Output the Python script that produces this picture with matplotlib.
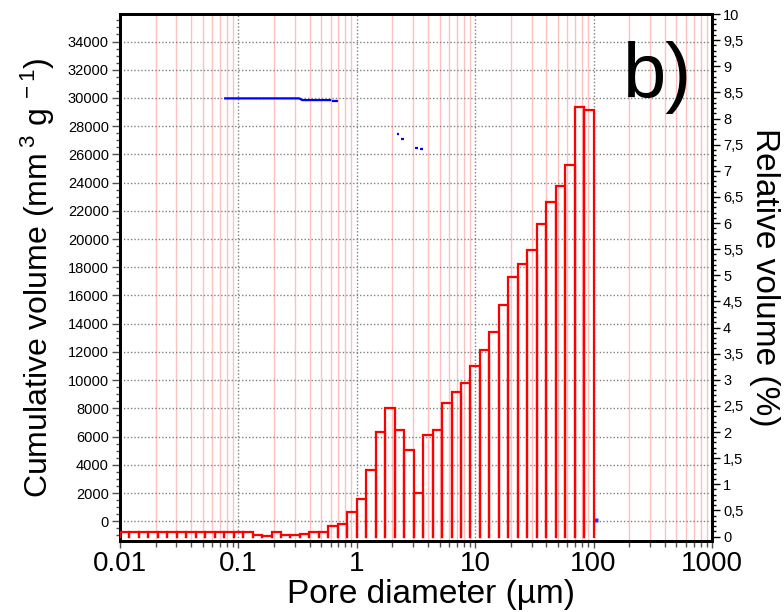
import numpy as np
import matplotlib
matplotlib.use("Agg")
import matplotlib.pyplot as plt
from matplotlib.ticker import FixedLocator, FuncFormatter, MultipleLocator, LogLocator, NullFormatter

plt.rcParams['font.family'] = ['Liberation Sans', 'DejaVu Sans']
plt.rcParams['mathtext.fontset'] = 'custom'
plt.rcParams['mathtext.rm'] = 'Liberation Sans'
plt.rcParams['mathtext.it'] = 'Liberation Sans'

# ---- data ----
bin_edges = np.logspace(-2, 2, 51)          # pore diameter bin edges (um)
relative_volume = [0.09, 0.09, 0.09, 0.09, 0.09, 0.09, 0.09, 0.09, 0.09, 0.09,
                   0.09, 0.09, 0.09, 0.09, 0.02, 0.01, 0.09, 0.02, 0.02, 0.05,
                   0.09, 0.09, 0.20, 0.23, 0.46, 0.71, 1.28, 2.00, 2.46, 2.04,
                   1.66, 0.84, 1.94, 2.04, 2.55, 2.76, 2.94, 3.27, 3.56, 3.92,
                   4.43, 4.97, 5.22, 5.48, 5.99, 6.40, 6.70, 7.11, 8.22, 8.17]

# cumulative volume fragments (um, mm3/g)
cum_seg1_x = [0.0757, 0.327, 0.345, 0.609]
cum_seg1_y = [29970, 29970, 29850, 29850]
cum_seg2_x = [0.62, 0.70]
cum_seg2_y = [29780, 29780]
cum_seg3_x = [2.2, 2.27]
cum_seg3_y = [27420, 27420]
cum_seg4_x = [2.38, 2.5]
cum_seg4_y = [27110, 27110]
cum_seg5_x = [3.13, 3.3]
cum_seg5_y = [26470, 26470]
cum_seg6_x = [3.43, 3.6]
cum_seg6_y = [26380, 26380]
cum_point_x = [104]
cum_point_y = [100]

x_ticks = [0.01, 0.1, 1, 10, 100, 1000]
x_ticklabels = ["0.01", "0.1", "1", "10", "100", "1000"]
left_ticks = list(range(0, 34001, 2000))
right_ticks = [i * 0.5 for i in range(21)]

# ---- figure ----
fig = plt.figure(figsize=(7.84, 6.12), dpi=100)
ax = fig.add_axes([120/784, 1-541/612, (712-120)/784, (541-14)/612])
ax2 = ax.twinx()

ax.set_xscale('log')
ax.set_xlim(0.01, 1000)
ax.set_ylim(-1400, 35950)
ax2.set_ylim(-0.086, 10)

# grids
ax.xaxis.set_major_locator(FixedLocator(x_ticks))
ax.xaxis.set_minor_locator(LogLocator(base=10, subs=np.arange(2, 10), numticks=20))
ax.xaxis.set_minor_formatter(NullFormatter())
ax.set_xticklabels(x_ticklabels)
ax.grid(which='minor', axis='x', color='#ffc0c0', lw=1.0, ls='-')
ax.grid(which='major', axis='x', color='#808080', lw=1.0, ls=(0, (1, 1.5)))
ax.set_yticks(left_ticks)
ax.yaxis.set_minor_locator(MultipleLocator(500))
ax.grid(which='major', axis='y', color='#808080', lw=1.0, ls=(0, (1, 1.5)))
ax.set_axisbelow(True)

# cumulative curve fragments
for sx, sy in [(cum_seg1_x, cum_seg1_y), (cum_seg2_x, cum_seg2_y), (cum_seg3_x, cum_seg3_y),
               (cum_seg4_x, cum_seg4_y), (cum_seg5_x, cum_seg5_y), (cum_seg6_x, cum_seg6_y)]:
    ax.plot(sx, sy, color='#0000ff', lw=1.6, solid_capstyle='butt', zorder=3)
ax.plot(cum_point_x, cum_point_y, ls='none', marker='s', ms=2.5, color='#3030ff', mec='none', zorder=3)

# histogram bars: open outlines (left side, top, right side; no bottom)
bx, by = [], []
for x0, x1, h in zip(bin_edges[:-1], bin_edges[1:], relative_volume):
    bx += [x0, x0, x1, x1, np.nan]
    by += [0, h, h, 0, np.nan]
ax2.plot(bx, by, color='#ff0000', lw=1.6, solid_joinstyle='miter', zorder=3)

ax2.set_yticks(right_ticks)
ax2.yaxis.set_minor_locator(MultipleLocator(0.1))
ax2.yaxis.set_major_formatter(FuncFormatter(lambda v, p: ('%g' % v).replace('.', ',')))

# ticks & spines
ax.tick_params(axis='x', which='major', direction='out', length=5, width=1, color='#505050',
               labelsize=20, pad=2)
ax.tick_params(axis='x', which='minor', direction='out', length=4, width=1, color='#505050')
ax.tick_params(axis='y', which='major', direction='out', length=6, width=1, color='#505050',
               labelsize=10.5, pad=2)
ax.tick_params(axis='y', which='minor', direction='out', length=3, width=1, color='#505050')
ax2.tick_params(axis='y', which='major', direction='out', length=6, width=1, color='black',
                labelsize=10.5, pad=2)
ax2.tick_params(axis='y', which='minor', direction='out', length=3, width=1, color='black')
for a in (ax, ax2):
    for s in a.spines.values():
        s.set_linewidth(2)
        s.set_color('black')

ax.set_xlabel('Pore diameter (µm)', fontsize=24, labelpad=2)
ax.xaxis.label.set_x((431 - 120) / 592)
ax.set_ylabel(r'Cumulative volume (mm$^{\;3}$ g$^{\;-1}$)', fontsize=23, labelpad=8)
ax2.set_ylabel('Relative volume (%)', fontsize=24, rotation=270, labelpad=26)

fig.text(623/784, 1-98/612, 'b)', fontsize=56, ha='left', va='baseline')

fig.savefig('out.png', dpi=100)
